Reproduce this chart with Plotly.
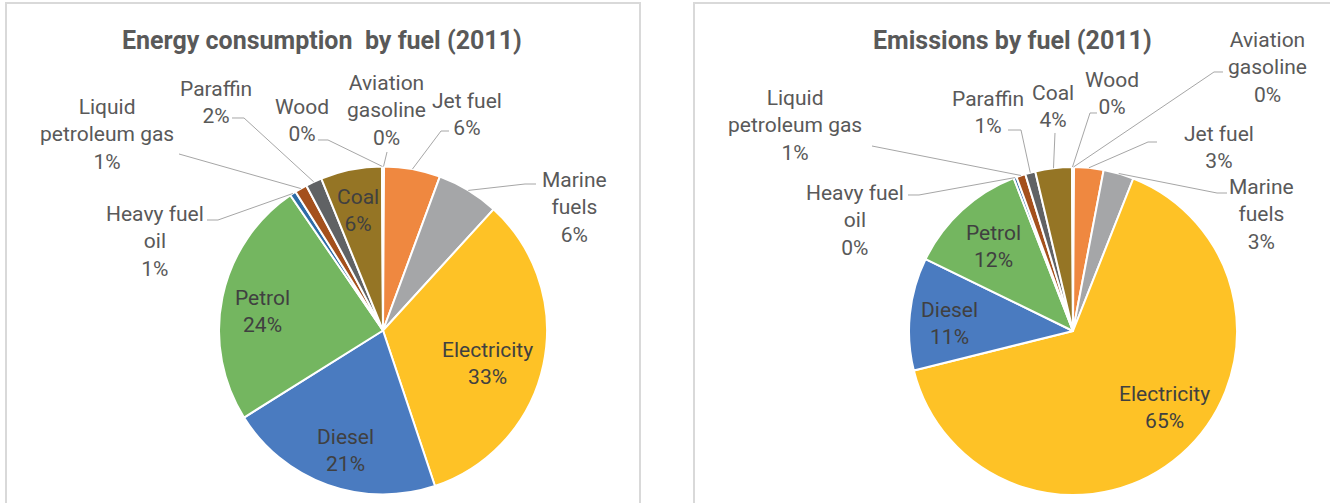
import math
import plotly.graph_objects as go

W, H = 1330, 503

# ---------------- data ----------------
fuels = ["Aviation gasoline", "Jet fuel", "Marine fuels", "Electricity", "Diesel", "Petrol",
         "Heavy fuel oil", "Liquid petroleum gas", "Paraffin", "Coal", "Wood"]
label_text = ["Aviation<br>gasoline", "Jet fuel", "Marine<br>fuels", "Electricity", "Diesel", "Petrol",
              "Heavy fuel<br>oil", "Liquid<br>petroleum gas", "Paraffin", "Coal", "Wood"]
energy_share = [0.1, 5.5, 6.1, 32.9, 21.1, 24.2, 0.6, 1.2, 1.6, 6.0, 0.1]
emissions_share = [0.1, 2.9, 3.0, 65.2, 11.1, 11.9, 0.3, 0.9, 1.0, 3.6, 0.1]
titles = ["Energy consumption  by fuel (2011)", "Emissions by fuel (2011)"]

# ---------------- style / layout ----------------
colors = ["#4472C4", "#EF8840", "#A5A6A8", "#FEC226", "#4A7BC0", "#74B660",
          "#2E6CA6", "#A4501C", "#606264", "#957525", "#255E91"]
FONT = "Roboto"
OUT_COL = "#595959"
IN_COL = "#404040"
LEADER_COL = "#A6A6A6"

pies = [
    dict(values=energy_share, cx=383, cy=330.5, r=164, title_xy=(322, 40), box=(6, 640),
         labels={
             "Aviation gasoline": dict(pos=(386, 110), lead=[(387, 152)]),
             "Jet fuel": dict(pos=(467, 114), lead=[(449, 131), (441, 131)]),
             "Marine fuels": dict(pos=(574, 207), lead=[(536, 184), (525, 184)]),
             "Electricity": dict(pos=(487, 363), inside=True),
             "Diesel": dict(pos=(345, 450), inside=True),
             "Petrol": dict(pos=(262, 311), inside=True),
             "Heavy fuel oil": dict(pos=(155, 241), lead=[(207, 220), (218, 220)]),
             "Liquid petroleum gas": dict(pos=(107, 134), lead=[(179, 154)]),
             "Paraffin": dict(pos=(216, 102), lead=[(232, 118), (244, 118)]),
             "Coal": dict(pos=(358, 210), inside=True),
             "Wood": dict(pos=(302, 121), lead=[(318, 140), (328, 140)]),
         }),
    dict(values=emissions_share, cx=1073, cy=331, r=164, title_xy=(1012, 40), box=(694, 1345),
         labels={
             "Aviation gasoline": dict(pos=(1267, 68), lead=[(1223, 72), (1214, 72)]),
             "Jet fuel": dict(pos=(1219, 147), lead=[(1157, 142), (1148, 142)]),
             "Marine fuels": dict(pos=(1261, 214), lead=[(1227, 193), (1217, 193)]),
             "Electricity": dict(pos=(1164, 407), inside=True),
             "Diesel": dict(pos=(949, 323), inside=True),
             "Petrol": dict(pos=(993, 246), inside=True),
             "Heavy fuel oil": dict(pos=(855, 220), lead=[(908, 195), (919, 195)]),
             "Liquid petroleum gas": dict(pos=(795, 126), lead=[(872, 146)]),
             "Paraffin": dict(pos=(988, 113), lead=[(1008, 130), (1021, 130)]),
             "Coal": dict(pos=(1053, 107), lead=[(1055, 133)]),
             "Wood": dict(pos=(1112, 94), lead=[(1097, 113), (1090, 113)]),
         }),
]


def px(x):
    return x / W


def py(y):
    return 1 - y / H


fig = go.Figure()
shapes = []
annotations = []

for ti, p in enumerate(pies):
    vals = p["values"]
    cx, cy, r = p["cx"], p["cy"], p["r"]
    fig.add_trace(go.Pie(
        labels=fuels, values=vals, sort=False, direction="clockwise", rotation=0,
        marker=dict(colors=colors, line=dict(color="white", width=2)),
        textinfo="none", showlegend=False, hoverinfo="label+percent",
        domain=dict(x=[px(cx - r), px(cx + r)], y=[py(cy + r), py(cy - r)]),
    ))
    # chart frame
    x0, x1 = p["box"]
    shapes.append(dict(type="rect", xref="paper", yref="paper", x0=px(x0), x1=px(x1),
                       y0=py(515), y1=py(3), line=dict(color="#D9D9D9", width=2),
                       fillcolor="rgba(0,0,0,0)", layer="below"))
    # title
    tx, ty = p["title_xy"]
    annotations.append(dict(text="<b>" + titles[ti] + "</b>", x=px(tx), y=py(ty), xref="paper", yref="paper",
                            xanchor="center", yanchor="middle", showarrow=False,
                            font=dict(family=FONT, size=25, color=OUT_COL)))
    total = sum(vals)
    cum = 0.0
    for name, txt, v in zip(fuels, label_text, vals):
        mid = (cum + v / 2) / total
        cum += v
        theta = 2 * math.pi * mid
        ax, ay = cx + r * math.sin(theta), cy - r * math.cos(theta)
        pct = round(100 * v / total)
        spec = p["labels"][name]
        lx, ly = spec["pos"]
        inside = spec.get("inside", False)
        annotations.append(dict(text=f"{txt}<br>{pct}%", x=px(lx), y=py(ly), xref="paper", yref="paper",
                                xanchor="center", yanchor="middle", showarrow=False, align="center",
                                font=dict(family=FONT, size=21, color=IN_COL if inside else OUT_COL)))
        if not inside:
            pts = list(spec["lead"]) + [(ax, ay)]
            path = "M " + " L ".join(f"{px(a):.5f},{py(b):.5f}" for a, b in pts)
            shapes.append(dict(type="path", xref="paper", yref="paper", path=path,
                               line=dict(color=LEADER_COL, width=1)))

fig.update_layout(width=W, height=H, margin=dict(l=0, r=0, t=0, b=0),
                  paper_bgcolor="white", plot_bgcolor="white",
                  shapes=shapes, annotations=annotations)

fig.write_html("out.html", config={"displayModeBar": False},
               post_script="document.body.style.margin='0';")
